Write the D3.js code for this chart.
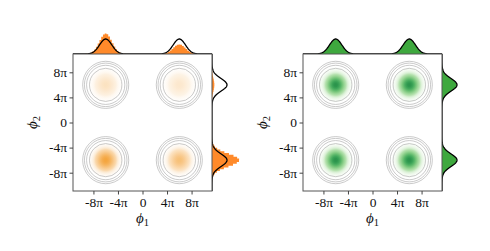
<!DOCTYPE html>
<html>
<head>
<meta charset="utf-8">
<script src="https://cdn.jsdelivr.net/npm/d3@7"></script>
<style>
  body { margin: 0; background: #fff; }
  text { font-family: "Liberation Serif", "DejaVu Serif", serif; fill: #111; }
</style>
</head>
<body>
<div id="chart"></div>
<script>
var PI = Math.PI;

// ticks
var tickVals = [-8 * PI, -4 * PI, 0, 4 * PI, 8 * PI];
var tickLabels = ["-8\u03c0", "-4\u03c0", "0", "4\u03c0", "8\u03c0"];

// four modes of the target (TL, TR, BL, BR)
var modeX = [-6 * PI, 6 * PI, -6 * PI, 6 * PI];
var modeY = [6 * PI, 6 * PI, -6 * PI, -6 * PI];
var modeSigma = PI;
var targetWeights = [0.25, 0.25, 0.25, 0.25];
var leftWeights = [0.05, 0.03, 0.63, 0.29];   // orange sample
var rightWeights = [0.25, 0.25, 0.25, 0.25];  // green sample
var contourRadii = [8.3, 9.8, 10.9, 11.8];

var W = 490, H = 251;
var box = {w: 139, h: 137, top: 54};
var panels = [
  {left: 73, weights: leftWeights, fill: "#ff8a2a", ramp: d3.interpolateRgb("#ffffff", "#f08800"), tmax: 0.72, ref: 0.63},
  {left: 303, weights: rightWeights, fill: "#3ea83e", ramp: d3.interpolateGreens, tmax: 0.68, ref: 0.25}
];

var svg = d3.select("#chart").append("svg")
    .attr("width", W)
    .attr("height", H);
var defs = svg.append("defs");

function margDensity(v, mus, ws) {
  var s = 0;
  for (var i = 0; i < mus.length; i++) {
    s += ws[i] * Math.exp(-(v - mus[i]) * (v - mus[i]) / (2 * modeSigma * modeSigma));
  }
  return s;
}

var grid = d3.range(-36, 36.01, 0.25);
var binGrid = d3.range(-36, 36.01, 0.9);

panels.forEach(function(p, pi) {
  var x = d3.scaleLinear().domain([-35.6, 35.6]).range([p.left, p.left + box.w]);
  var y = d3.scaleLinear().domain([-34.3, 34.3]).range([box.top + box.h, box.top]);
  var hs = d3.scaleLinear().domain([0, 0.5]).range([0, 15]);

  var g = svg.append("g");

  g.append("clipPath").attr("id", "clip" + pi)
    .append("rect").attr("x", p.left).attr("y", box.top).attr("width", box.w).attr("height", box.h);

  var plot = g.append("g").attr("clip-path", "url(#clip" + pi + ")");

  // density blobs
  modeX.forEach(function(mx, i) {
    var w = p.weights[i];
    var t0 = p.tmax * Math.sqrt(w / p.ref);
    var id = "grad" + pi + "_" + i;
    var grad = defs.append("radialGradient").attr("id", id);
    d3.range(0, 1.001, 0.1).forEach(function(f) {
      var k = Math.exp(-(f * 2.3) * (f * 2.3) / 2);
      grad.append("stop")
        .attr("offset", f)
        .attr("stop-color", p.ramp(t0 * k + 0.04))
        .attr("stop-opacity", Math.min(1, k * 2.6));
    });
    var rx = x(2.8 * modeSigma) - x(0), ry = y(0) - y(2.8 * modeSigma);
    plot.append("ellipse")
      .attr("cx", x(mx)).attr("cy", y(modeY[i]))
      .attr("rx", rx).attr("ry", ry)
      .attr("fill", "url(#" + id + ")");
  });

  // contour rings
  modeX.forEach(function(mx, i) {
    contourRadii.forEach(function(r) {
      plot.append("ellipse")
        .attr("cx", x(mx)).attr("cy", y(modeY[i]))
        .attr("rx", x(r) - x(0)).attr("ry", y(0) - y(r))
        .attr("fill", "none")
        .attr("stroke", "#b4b4b4")
        .attr("stroke-opacity", 0.7)
        .attr("stroke-width", 1);
    });
  });

  // marginal weights
  var xw = [p.weights[0] + p.weights[2], p.weights[1] + p.weights[3]];
  var yw = [p.weights[0] + p.weights[1], p.weights[2] + p.weights[3]];
  var txw = [targetWeights[0] + targetWeights[2], targetWeights[1] + targetWeights[3]];
  var tyw = [targetWeights[0] + targetWeights[1], targetWeights[2] + targetWeights[3]];
  var xm = [-6 * PI, 6 * PI], ym = [6 * PI, -6 * PI];

  // top marginal
  g.append("clipPath").attr("id", "tclip" + pi)
    .append("rect").attr("x", p.left).attr("y", 0).attr("width", box.w).attr("height", box.top);
  var top = g.append("g").attr("clip-path", "url(#tclip" + pi + ")");
  top.append("path")
    .datum(binGrid)
    .attr("fill", p.fill)
    .attr("d", d3.area()
      .curve(pi === 0 ? d3.curveStep : d3.curveBasis)
      .x(function(d) { return x(d); })
      .y0(box.top)
      .y1(function(d) { return box.top - hs(margDensity(d, xm, xw)); }));
  top.append("path")
    .datum(grid)
    .attr("fill", "none")
    .attr("stroke", "#000")
    .attr("stroke-width", 1.3)
    .attr("d", d3.line()
      .x(function(d) { return x(d); })
      .y(function(d) { return box.top - hs(margDensity(d, xm, txw)); }));

  // right marginal
  var bx = p.left + box.w;
  g.append("clipPath").attr("id", "rclip" + pi)
    .append("rect").attr("x", bx).attr("y", box.top).attr("width", 40).attr("height", box.h);
  var side = g.append("g").attr("clip-path", "url(#rclip" + pi + ")");
  side.append("path")
    .datum(binGrid)
    .attr("fill", p.fill)
    .attr("d", d3.area()
      .curve(pi === 0 ? d3.curveStep : d3.curveBasis)
      .y(function(d) { return y(d); })
      .x0(bx)
      .x1(function(d) { return bx + hs(margDensity(d, ym, yw)); }));
  side.append("path")
    .datum(grid)
    .attr("fill", "none")
    .attr("stroke", "#000")
    .attr("stroke-width", 1.3)
    .attr("d", d3.line()
      .y(function(d) { return y(d); })
      .x(function(d) { return bx + hs(margDensity(d, ym, tyw)); }));

  // frame
  g.append("rect")
    .attr("x", p.left).attr("y", box.top)
    .attr("width", box.w).attr("height", box.h)
    .attr("fill", "none")
    .attr("stroke", "#555")
    .attr("stroke-width", 1);

  // axes
  var xAxis = d3.axisBottom(x).tickValues(tickVals)
    .tickFormat(function(d, i) { return tickLabels[i]; })
    .tickSize(3.5).tickPadding(2.5);
  var yAxis = d3.axisLeft(y).tickValues(tickVals)
    .tickFormat(function(d, i) { return tickLabels[i]; })
    .tickSize(3.5).tickPadding(2.5);

  var gx = g.append("g").attr("transform", "translate(0," + (box.top + box.h) + ")").call(xAxis);
  var gy = g.append("g").attr("transform", "translate(" + p.left + ",0)").call(yAxis);
  [gx, gy].forEach(function(a) {
    a.attr("font-family", null).attr("font-size", null);
    a.select(".domain").remove();
    a.selectAll(".tick line").attr("stroke", "#444");
    a.selectAll(".tick text")
      .style("font-family", "'Liberation Serif', serif")
      .style("font-size", "13.5px")
      .attr("fill", "#111");
  });

  // axis labels
  var lx = g.append("text")
    .attr("x", p.left + box.w / 2)
    .attr("y", 223)
    .attr("text-anchor", "middle")
    .style("font-size", "15px");
  lx.append("tspan").style("font-style", "italic").text("\u03d5");
  lx.append("tspan").attr("dy", 3).style("font-size", "10.5px").text("1");

  var ly = g.append("text")
    .attr("transform", "translate(" + (p.left - 36) + "," + (box.top + box.h / 2) + ") rotate(-90)")
    .attr("text-anchor", "middle")
    .style("font-size", "15px");
  ly.append("tspan").style("font-style", "italic").text("\u03d5");
  ly.append("tspan").attr("dy", 3).style("font-size", "10.5px").text("2");
});
</script>
</body>
</html>
